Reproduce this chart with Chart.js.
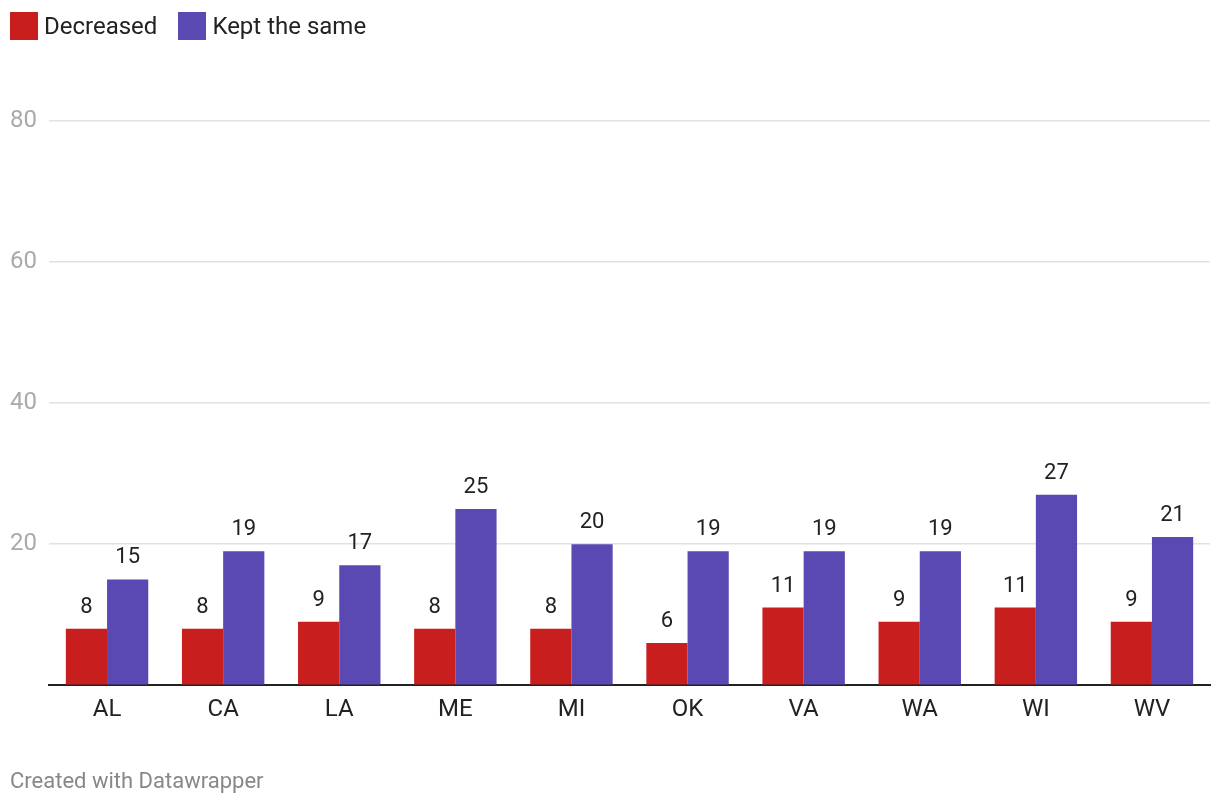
<!DOCTYPE html>
<html>
<head>
<meta charset="utf-8">
<script src="https://cdn.jsdelivr.net/npm/chart.js@4/dist/chart.umd.min.js"></script>
<style>
  html, body { margin: 0; padding: 0; background: #fff; }
  #wrap { position: relative; width: 1220px; height: 806px; font-family: Roboto, sans-serif; }
  #legend { position: absolute; left: 10px; top: 12px; display: flex; align-items: center; font-size: 24px; color: #222; }
  #legend span.box { display: inline-block; width: 28px; height: 28px; margin-right: 6px; }
  #legend span.item { display: flex; align-items: center; margin-right: 21px; }
  #footer { position: absolute; left: 10px; top: 768px; font-size: 22px; color: #888; }
</style>
</head>
<body>
<div id="wrap">
  <canvas id="chart"></canvas>
  <div id="legend"></div>
  <div id="footer">Created with Datawrapper</div>
</div>
<script>
// chart data
const states = ['AL', 'CA', 'LA', 'ME', 'MI', 'OK', 'VA', 'WA', 'WI', 'WV'];
const decreased = [8, 8, 9, 8, 8, 6, 11, 9, 11, 9];
const keptSame = [15, 19, 17, 25, 20, 19, 19, 19, 27, 21];
const yTicks = [0, 20, 40, 60, 80];
const seriesNames = ['Decreased', 'Kept the same'];
const seriesColors = ['#c81e1e', '#5a48b3'];

Chart.defaults.font.family = 'Roboto, "Noto Sans", sans-serif';

// draw the value above each bar
const valueLabels = {
    id: 'valueLabels',
    afterDatasetsDraw(chart) {
        const ctx = chart.ctx;
        ctx.save();
        ctx.font = '22px Roboto, sans-serif';
        ctx.fillStyle = '#222';
        ctx.textAlign = 'center';
        ctx.textBaseline = 'alphabetic';
        chart.data.datasets.forEach(function(ds, i) {
            chart.getDatasetMeta(i).data.forEach(function(bar, j) {
                ctx.fillText(ds.data[j], bar.x, bar.y - 16);
            });
        });
        ctx.restore();
    }
};

const chart = new Chart(document.getElementById('chart'), {
    type: 'bar',
    data: {
        labels: states,
        datasets: [{
            label: seriesNames[0],
            data: decreased,
            backgroundColor: seriesColors[0],
            categoryPercentage: 0.71,
            barPercentage: 1
        }, {
            label: seriesNames[1],
            data: keptSame,
            backgroundColor: seriesColors[1],
            categoryPercentage: 0.71,
            barPercentage: 1
        }]
    },
    options: {
        responsive: true,
        maintainAspectRatio: false,
        animation: false,
        layout: { padding: { left: 0, right: 10, top: 121, bottom: 72 } },
        plugins: {
            tooltip: { enabled: false },
            legend: { display: false }
        },
        scales: {
            x: {
                grid: { display: false, drawTicks: false },
                border: { display: true, color: '#222', width: 2 },
                ticks: { color: '#222', font: { size: 24 }, padding: 10 }
            },
            y: {
                min: 0,
                max: 80,
                afterBuildTicks(scale) {
                    scale.ticks = yTicks.map(function(v) { return { value: v }; });
                },
                afterFit(scale) { scale.width = 49; },
                border: { display: false },
                grid: {
                    color: function(c) { return c.tick && c.tick.value === 0 ? 'rgba(0,0,0,0)' : '#e2e2e2'; },
                    lineWidth: 1.5,
                    drawTicks: false
                },
                ticks: {
                    color: '#aaa',
                    font: { size: 24 },
                    crossAlign: 'near',
                    padding: 12,
                    callback: function(v) { return v === 0 ? '' : v; }
                }
            }
        }
    },
    plugins: [valueLabels]
});

// html legend
const legend = document.getElementById('legend');
chart.data.datasets.forEach(function(ds) {
    const item = document.createElement('span');
    item.className = 'item';
    const box = document.createElement('span');
    box.className = 'box';
    box.style.background = ds.backgroundColor;
    item.appendChild(box);
    item.appendChild(document.createTextNode(ds.label));
    legend.appendChild(item);
});
</script>
</body>
</html>
